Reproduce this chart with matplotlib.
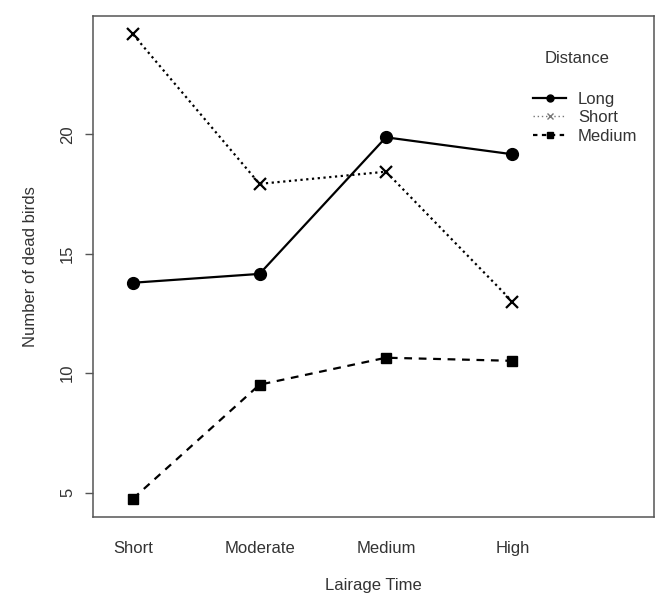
import matplotlib
matplotlib.use("Agg")
import matplotlib.pyplot as plt
from matplotlib.lines import Line2D

plt.rcParams['font.family'] = ['Liberation Sans', 'DejaVu Sans']

lairage = ["Short", "Moderate", "Medium", "High"]
distance = ["Long", "Short", "Medium"]
long_vals = [13.79, 14.16, 19.88, 19.17]
short_vals = [24.19, 17.93, 18.44, 13.0]
medium_vals = [4.75, 9.52, 10.65, 10.52]

x = [1, 2, 3, 4]
txt = "#333333"

fig = plt.figure(figsize=(6.59, 5.94), dpi=100)
ax = fig.add_axes([93/659, 1-517/594, (654-93)/659, (517-16)/594])

ax.plot(x, long_vals, color="black", lw=1.6, ls="-", marker="o", ms=8.5)
ax.plot(x, short_vals, color="black", lw=1.6, ls=(0, (1, 1.6)), marker="x", ms=8, mew=1.6)
ax.plot(x, medium_vals, color="black", lw=1.6, ls=(0, (3.5, 3)), marker="s", ms=7.5)

ax.set_xlim(0.683, 5.12)
ax.set_ylim(3.98, 24.96)
ax.set_xticks(x)
ax.set_xticklabels(lairage)
ax.set_yticks([5, 10, 15, 20])
ax.set_yticklabels(["5", "10", "15", "20"], rotation=90, va="center")
ax.tick_params(axis="x", length=0, pad=17, labelsize=12, labelcolor=txt)
ax.tick_params(axis="y", length=6, width=1, color="#555555", pad=7, labelsize=12, labelcolor=txt)
for s in ax.spines.values():
    s.set_color("#555555")
    s.set_linewidth(1.1)

ax.set_xlabel("Lairage Time", fontsize=12, color=txt, labelpad=16)
ax.set_ylabel("Number of dead birds", fontsize=12, color=txt, labelpad=16)

# legend
ax.text(4.51, 23.2, "Distance", fontsize=12, color=txt, ha="center", va="center")
handles = [
    Line2D([], [], color="black", lw=1.6, ls="-", marker="o", ms=5),
    Line2D([], [], color="#777777", lw=1.0, ls=(0, (1, 2)), marker="x", ms=5, mew=1.0),
    Line2D([], [], color="black", lw=1.6, ls=(0, (2, 2)), marker="s", ms=5),
]
ax.legend(handles, distance, loc="upper left", bbox_to_anchor=((533-93)/561, 1-(92-16)/501),
          frameon=False, fontsize=12, labelcolor=txt, handlelength=2.0, handletextpad=0.7,
          labelspacing=0.2, borderpad=0, borderaxespad=0)

fig.savefig("out.png", dpi=100)
